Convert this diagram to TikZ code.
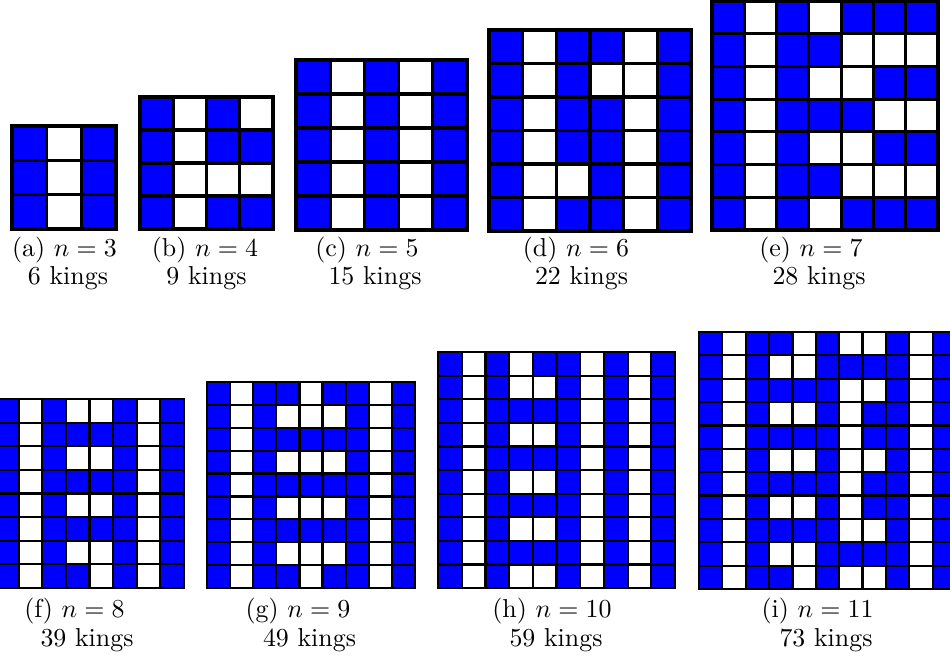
\documentclass[tikz,border=0pt]{standalone}
\begin{document}
\begin{tikzpicture}[x=0.386pt,y=-0.386pt,
  cellfill/.style={fill={rgb,255:red,0;green,0;blue,255}},
  gridtop/.style={line width=1.2pt,line cap=rect},
  gridbot/.style={line width=0.85pt,line cap=rect},
  lbl/.style={inner sep=0pt,anchor=base,font=\fontsize{10}{12}\selectfont}]
\useasboundingbox (0,0) rectangle (950,657);
\clip (0,0) rectangle (950,657);
% #1 x0, #2 y0, #3 width, #4 height, #5 n, #6 line style, #7 rows
\newcommand\kingboard[7]{%
 \begin{scope}[shift={(#1,#2)},xscale=#3/#5,yscale=#4/#5]
  \foreach \rw [count=\r from 0] in {#7} {
    \foreach \c [count=\k from 0] in \rw {
      \ifnum\c=1 \fill[cellfill] (\k,\r) rectangle ++(1,1);\fi
    }
  }
  \foreach \i in {0,...,#5} {
    \draw[#6] (\i,0) -- (\i,#5);
    \draw[#6] (0,\i) -- (#5,\i);
  }
 \end{scope}}
% (a)
\kingboard{12}{126}{104}{103}{3}{gridtop}{{1,0,1},{1,0,1},{1,0,1}}
% (b)
\kingboard{140}{97}{133}{132}{4}{gridtop}{{1,0,1,0},{1,0,1,1},{1,0,0,0},{1,0,1,1}}
% (c)
\kingboard{296}{60}{171}{170}{5}{gridtop}{{1,0,1,0,1},{1,0,1,0,1},{1,0,1,0,1},{1,0,1,0,1},{1,0,1,0,1}}
% (d)
\kingboard{489}{30}{202}{201}{6}{gridtop}{{1,0,1,1,0,1},{1,0,1,0,0,1},{1,0,1,1,0,1},{1,0,1,1,0,1},{1,0,0,1,0,1},{1,0,1,1,0,1}}
% (e)
\kingboard{712}{1}{226}{229}{7}{gridtop}{{1,0,1,0,1,1,1},{1,0,1,1,0,0,0},{1,0,1,0,0,1,1},{1,0,1,1,1,0,0},{1,0,1,0,0,1,1},{1,0,1,1,0,0,0},{1,0,1,0,1,1,1}}
% (f)
\kingboard{-5}{399}{189}{189}{8}{gridbot}{{1,0,1,0,0,1,0,1},{1,0,1,1,1,1,0,1},{1,0,1,0,0,1,0,1},{1,0,1,1,1,1,0,1},{1,0,1,0,0,1,0,1},{1,0,1,1,1,1,0,1},{1,0,1,0,0,1,0,1},{1,0,1,1,0,1,0,1}}
% (g)
\kingboard{207}{382}{208}{206}{9}{gridbot}{{1,0,1,1,0,1,1,0,1},{1,0,1,0,0,0,1,0,1},{1,0,1,1,1,1,1,0,1},{1,0,1,0,0,0,1,0,1},{1,0,1,1,1,1,1,0,1},{1,0,1,0,0,0,1,0,1},{1,0,1,1,1,1,1,0,1},{1,0,1,0,0,0,1,0,1},{1,0,1,1,0,1,1,0,1}}
% (h)
\kingboard{438}{352}{237}{236}{10}{gridbot}{{1,0,1,0,1,1,0,1,0,1},{1,0,1,0,0,1,0,1,0,1},{1,0,1,1,1,1,0,1,0,1},{1,0,1,0,0,1,0,1,0,1},{1,0,1,1,1,1,0,1,0,1},{1,0,1,0,0,1,0,1,0,1},{1,0,1,1,1,1,0,1,0,1},{1,0,1,0,0,1,0,1,0,1},{1,0,1,1,1,1,0,1,0,1},{1,0,1,0,0,1,0,1,0,1}}
% (i)
\kingboard{699}{332}{257}{257}{11}{gridbot}{{1,0,1,1,0,1,0,0,1,0,1},{1,0,1,0,0,1,1,1,1,0,1},{1,0,1,1,1,1,0,0,1,0,1},{1,0,1,0,0,1,0,1,1,0,1},{1,0,1,1,1,1,0,1,1,0,1},{1,0,1,0,0,1,0,0,1,0,1},{1,0,1,1,1,1,0,1,1,0,1},{1,0,1,0,0,1,0,1,1,0,1},{1,0,1,1,1,1,0,0,1,0,1},{1,0,1,0,0,1,1,1,1,0,1},{1,0,1,1,0,1,0,0,1,0,1}}
% captions
\node[lbl] (capa) at (64.5,256) {(a) $n=3$};
\node[lbl] (kinga) at (68,284) {6 kings};
\node[lbl] (capb) at (205,256) {(b) $n=4$};
\node[lbl] (kingb) at (206.5,284) {9 kings};
\node[lbl] (capc) at (367,256) {(c) $n=5$};
\node[lbl] (kingc) at (375,284) {15 kings};
\node[lbl] (capd) at (576,256) {(d) $n=6$};
\node[lbl] (kingd) at (581.5,284) {22 kings};
\node[lbl] (cape) at (811,256) {(e) $n=7$};
\node[lbl] (kinge) at (819,284) {28 kings};
\node[lbl] (capf) at (74.5,617) {(f) $n=8$};
\node[lbl] (kingf) at (87,646) {39 kings};
\node[lbl] (capg) at (298,617) {(g) $n=9$};
\node[lbl] (kingg) at (309.5,646) {49 kings};
\node[lbl] (caph) at (552,617) {(h) $n=10$};
\node[lbl] (kingh) at (556,646) {59 kings};
\node[lbl] (capi) at (817.5,617) {(i) $n=11$};
\node[lbl] (kingi) at (826,646) {73 kings};
\end{tikzpicture}
\end{document}
